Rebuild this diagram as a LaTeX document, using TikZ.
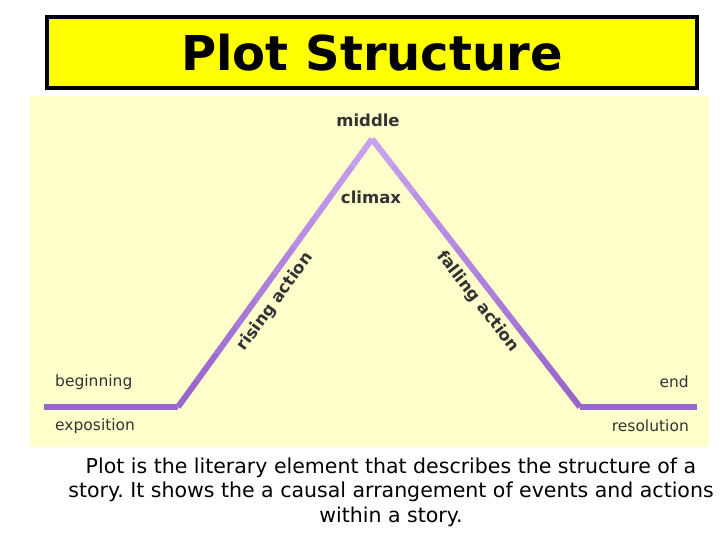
\documentclass[tikz,border=0pt]{standalone}
\usepackage{fontspec}
\setmainfont{DejaVu Sans}
\usetikzlibrary{calc,positioning}

\definecolor{titleyellow}{HTML}{FFFF00}
\definecolor{panelcream}{HTML}{FFFFCC}
\definecolor{plotdark}{HTML}{9966CC}
\definecolor{plotlight}{HTML}{CCA6F2}
\definecolor{labelgrey}{HTML}{333333}

\begin{document}
\frenchspacing
\begin{tikzpicture}[x=1pt, y=1pt,
    small/.style={font=\fontsize{15.5}{17}\selectfont, text=labelgrey, inner sep=0pt},
    smallbold/.style={font=\bfseries\fontsize{16.5}{18}\selectfont, text=labelgrey, inner sep=0pt},
    plotline/.style={line width=6pt, line join=miter}]

  \useasboundingbox[fill=white] (0,0) rectangle (728,546);

  % title and panel
  \node[draw, line width=4pt, fill=titleyellow, minimum width=650pt,
    minimum height=71pt, font=\bfseries\fontsize{48}{52}\selectfont]
    (title) at (372,493.5) {Plot Structure};
  \fill[panelcream] (30,99) rectangle (709,450);

  % plot line
  \coordinate (start) at (44,139);
  \coordinate (climb) at (178,139);
  \coordinate (peak)  at (372,407);
  \coordinate (fall)  at (580,139);
  \coordinate (finish) at (697,139);

  \draw[plotline, plotdark] (start) -- (climb);
  \draw[plotline, plotdark] (fall) -- (finish);
  \foreach \i in {0,...,9} {
    \pgfmathtruncatemacro{\mix}{100-\i*10}
    \draw[plotline, plotdark!\mix!plotlight]
      ($(climb)!\i/10!(peak)$) -- ($(climb)!\i/10+0.1!(peak)$);
    \draw[plotline, plotdark!\mix!plotlight]
      ($(fall)!\i/10!(peak)$) -- ($(fall)!\i/10+0.1!(peak)$);
  }

  % labels
  \node[smallbold] (middle) at (368,426) {middle};
  \node[smallbold] (climax) at (371,349) {climax};
  \path (climb) -- (peak) node[smallbold, sloped, below=9pt, pos=0.43] (rising) {rising action};
  \path (peak) -- (fall) node[smallbold, sloped, below=8pt, pos=0.57] (falling) {falling action};
  \node[small, anchor=west] (beginning) at (55,164) {beginning};
  \node[small, anchor=west] (exposition) at (55,120) {exposition};
  \node[small, anchor=east] (end) at (689,164) {end};
  \node[small, anchor=east] (resolution) at (689,120) {resolution};

  % caption
  \node[align=center, font=\fontsize{20.5}{24.5}\selectfont, inner sep=0pt]
    (caption) at (391,54) {Plot is the literary element that describes the structure of a\\
    story. It shows the a causal arrangement of events and actions\\
    within a story.};

\end{tikzpicture}
\end{document}
